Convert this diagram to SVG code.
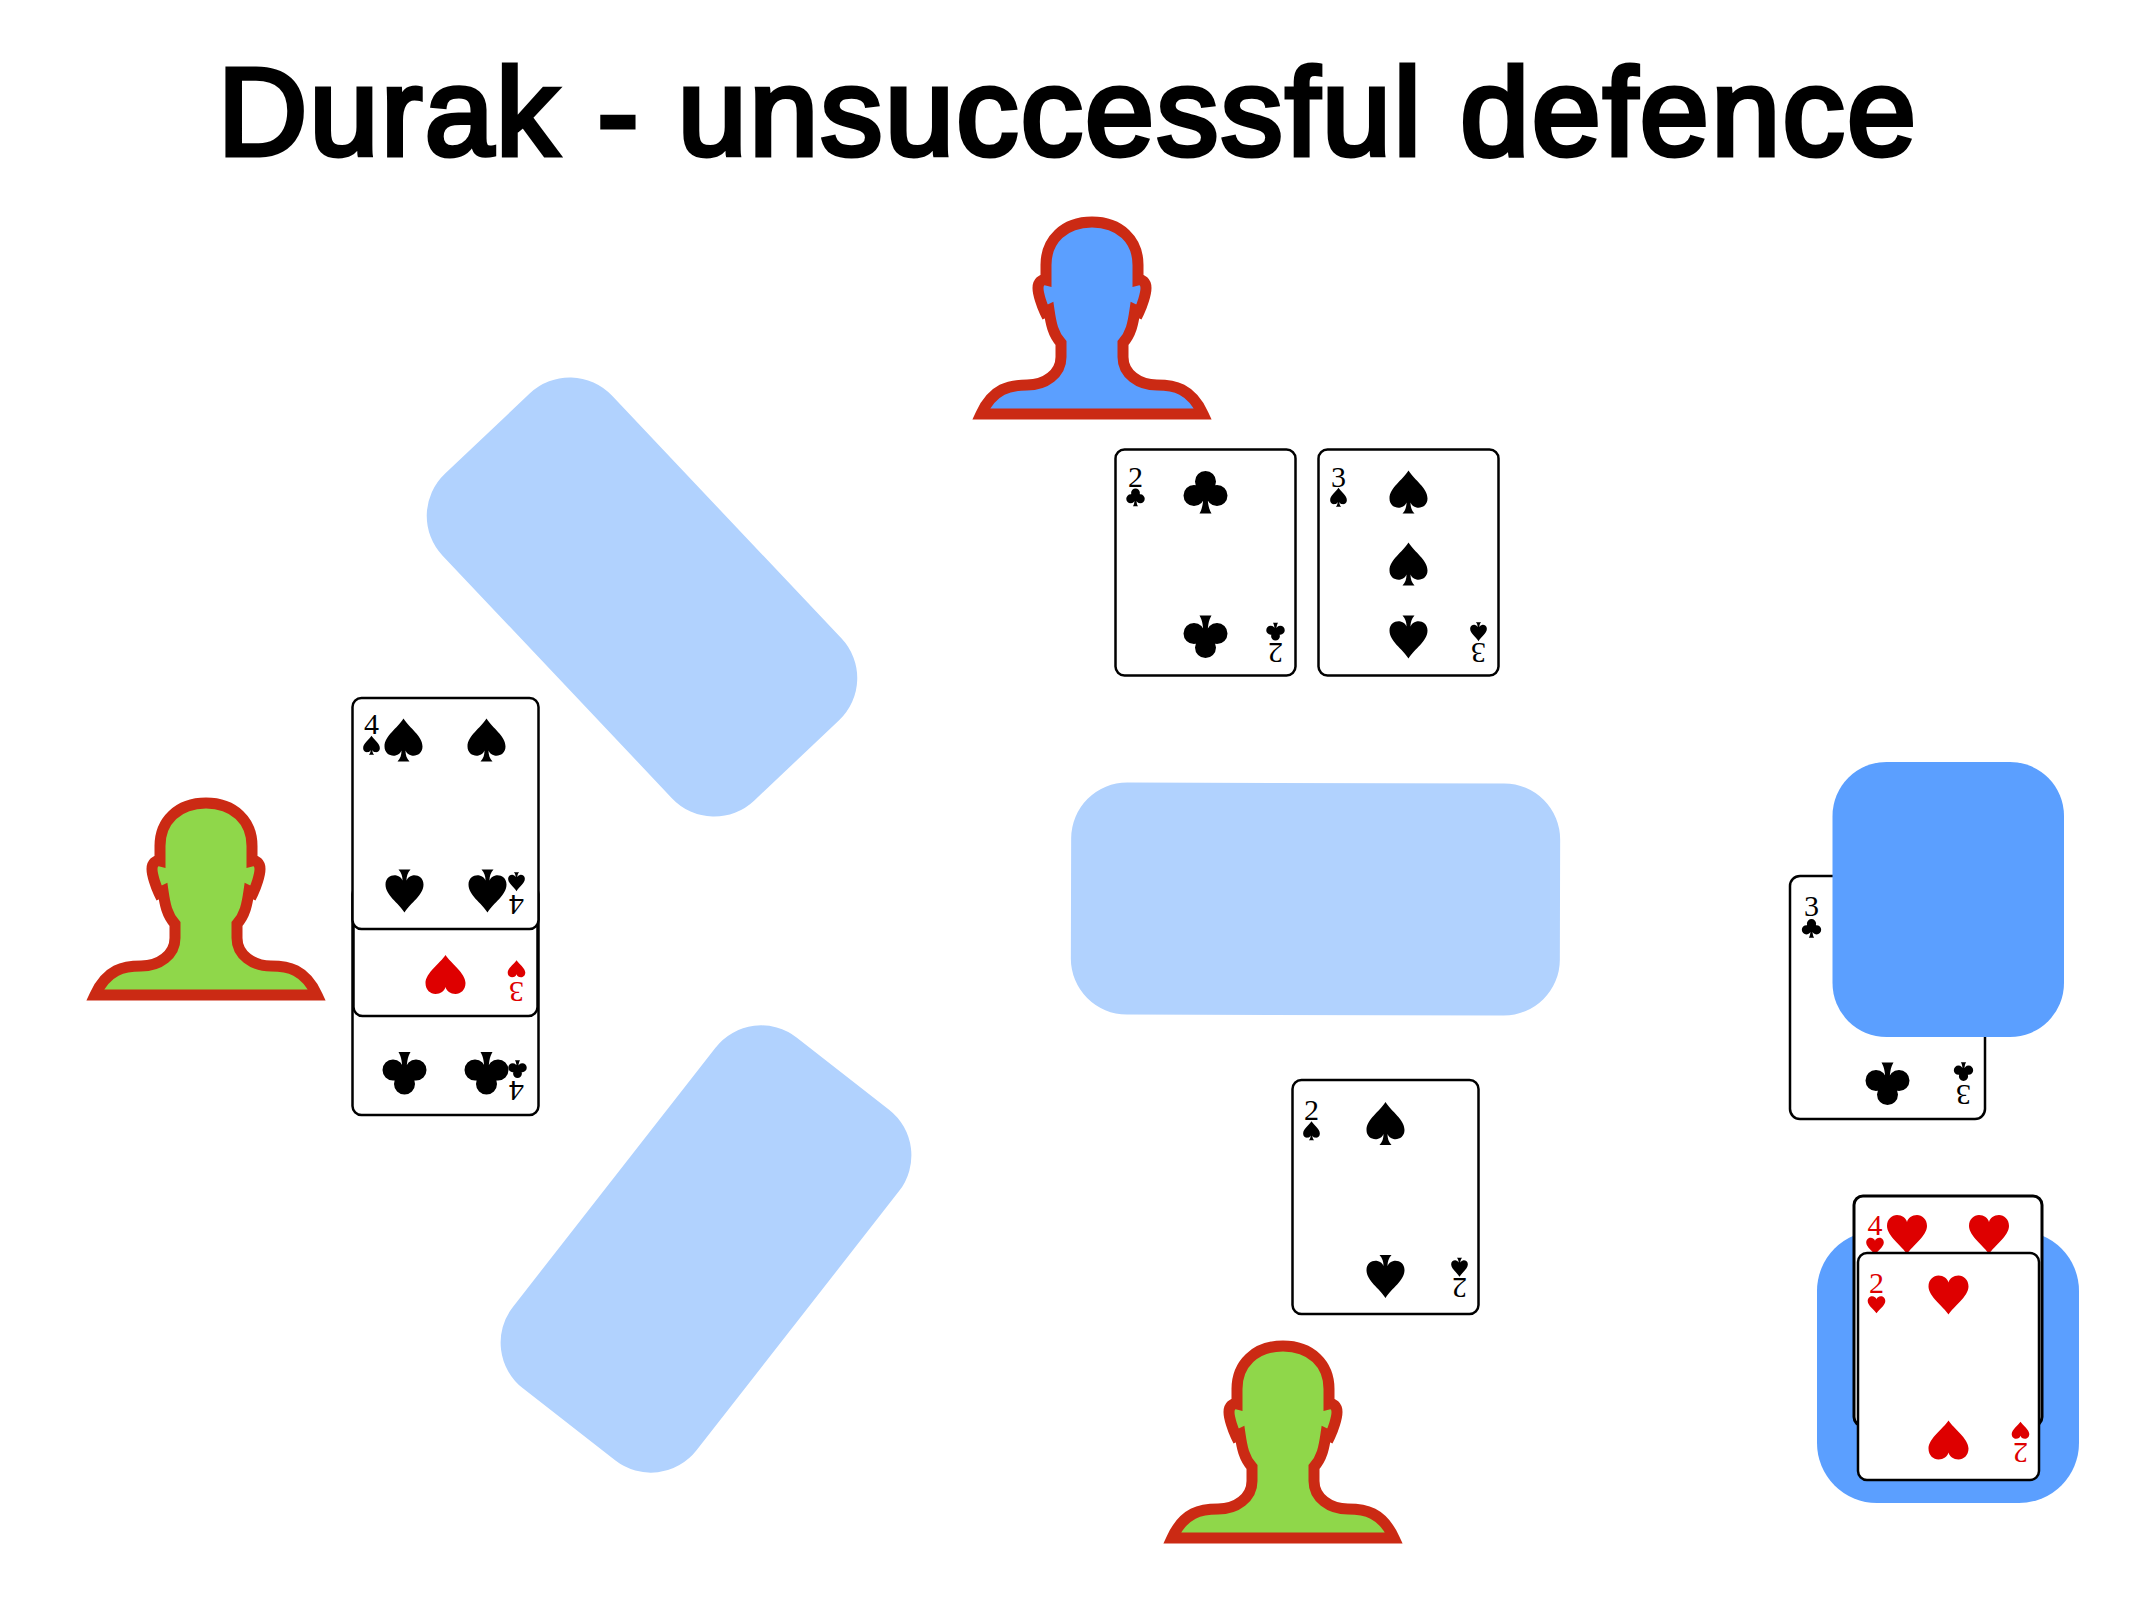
<svg xmlns="http://www.w3.org/2000/svg" xmlns:xlink="http://www.w3.org/1999/xlink" width="2133" height="1600" viewBox="0 0 2133 1600">
<style>
.title{font-family:"Liberation Sans",Arial,sans-serif;font-size:124px;letter-spacing:2.4px;fill:#000;stroke:#000;stroke-width:5;text-anchor:middle}
.person{stroke:#cb2a14;stroke-width:11;stroke-miterlimit:10;stroke-linejoin:miter}
.green{fill:#8fd74a}.bluep{fill:#5b9fff}
.slot{fill:#b1d2fe}.deck{fill:#5b9fff}
.card{fill:#fff;stroke:#000;stroke-width:2.500}
.d{font-family:"Liberation Serif","Times New Roman",serif;font-size:30px;text-anchor:middle}
.k{fill:#000}.r{fill:#de0000}
</style>
<defs>
<path id="head" d="M0,0C28,0 46,18 46,43L46,58C50,57 54,60 54,66C54,72 50,84 47,90L43,88C41,102 39,112 31,121L31,135C31,152 47,163 65,163C82,163 99,166 111,192L-111,192C-99,166 -82,163 -65,163C-47,163 -31,152 -31,135L-31,121C-39,112 -41,102 -43,88L-47,90C-50,84 -54,72 -54,66C-54,60 -50,57 -46,58L-46,43C-46,18 -28,0 0,0Z"/>
<path id="S" d="M0,-22C6,-12 19,-5 19,6C19,13 13,16 8,15C5,14.500 3,12.500 2,10C2,14 3,18 6,21L-6,21C-3,18 -2,14 -2,10C-3,12.500 -5,14.500 -8,15C-13,16 -19,13 -19,6C-19,-5 -6,-12 0,-22Z"/>
<path id="C" d="M-10.500,-11a10.500,10.500 0 1 1 21,0a10.500,10.500 0 1 1 -21,0ZM-22,3a10.500,10.500 0 1 1 21,0a10.500,10.500 0 1 1 -21,0ZM1,3a10.500,10.500 0 1 1 21,0a10.500,10.500 0 1 1 -21,0ZM-6,-6L6,-6L6,6L-6,6ZM-6,21C-3,16 -2,10 -2,-3L2,-3C2,10 3,16 6,21Z"/>
<path id="H" d="M0,20C-5,12 -20,2 -20,-8C-20,-15 -15,-19 -10,-19C-5,-19 -1,-16 0,-12C1,-16 5,-19 10,-19C15,-19 20,-15 20,-8C20,2 5,12 0,20Z"/>
</defs>

<text class="title" x="1068" y="155">Durak - unsuccessful defence</text>

<g id="slot-left"><rect class="slot" x="417" y="480.500" width="450" height="233" rx="58" transform="rotate(46.600 642 597)"/></g>
<g id="slot-center"><rect class="slot" x="1071" y="783" width="489" height="232" rx="56" transform="rotate(0.150 1315 899)"/></g>
<g id="slot-bottom"><rect class="slot" x="483.500" y="1132.500" width="445" height="233" rx="58" transform="rotate(-52 706 1249)"/></g>

<g id="player-north" transform="translate(1092,222)"><use href="#head" class="person bluep"/></g>
<g id="player-west" transform="translate(206,803)"><use href="#head" class="person green"/></g>
<g id="player-south" transform="translate(1283,1346)"><use href="#head" class="person green"/></g>

<g id="card-2c" class="k" transform="translate(1205.500,562.500)">
<rect class="card" x="-90" y="-113" width="180" height="226" rx="9"/>
<text class="d" x="-70" y="-76">2</text><use href="#C" transform="translate(-70,-65) scale(.42)"/>
<use href="#C" transform="translate(0,-70)"/>
<g transform="translate(0,4) rotate(180)"><text class="d" x="-70" y="-76">2</text><use href="#C" transform="translate(-70,-65) scale(.42)"/><use href="#C" transform="translate(0,-70)"/></g>
</g>
<g id="card-3s" class="k" transform="translate(1408.500,562.500)">
<rect class="card" x="-90" y="-113" width="180" height="226" rx="9"/>
<text class="d" x="-70" y="-76">3</text><use href="#S" transform="translate(-70,-65) scale(.44)"/>
<use href="#S" transform="translate(0,-70)"/><use href="#S" transform="translate(0,2)"/>
<g transform="translate(0,4) rotate(180)"><text class="d" x="-70" y="-76">3</text><use href="#S" transform="translate(-70,-65) scale(.44)"/><use href="#S" transform="translate(0,-70)"/></g>
</g>
<g id="card-2s" class="k" transform="translate(1385.500,1197)">
<rect class="card" x="-93" y="-117" width="186" height="234" rx="9"/>
<text class="d" x="-74" y="-77">2</text><use href="#S" transform="translate(-74,-66) scale(.44)"/>
<use href="#S" transform="translate(0,-73)"/>
<g transform="translate(0,4) rotate(180)"><text class="d" x="-74" y="-77">2</text><use href="#S" transform="translate(-74,-66) scale(.44)"/><use href="#S" transform="translate(0,-75)"/></g>
</g>

<g id="card-4c" class="k" transform="translate(445.500,1000)">
<rect class="card" x="-93" y="-115" width="186" height="230" rx="9"/>
<g transform="rotate(180)"><text class="d" x="-71" y="-81">4</text><use href="#C" transform="translate(-72,-69) scale(.42)"/><use href="#C" transform="translate(-41,-73) scale(1)"/><use href="#C" transform="translate(41,-73) scale(1)"/></g>
</g>
<g id="card-3h" class="r" transform="translate(445.500,901)">
<rect class="card" x="-92" y="-115" width="184" height="230" rx="9"/>
<g transform="rotate(180)"><text class="d" x="-71" y="-81">3</text><use href="#H" transform="translate(-71,-68) scale(.44)"/><use href="#H" transform="translate(0,-74)"/></g>
</g>
<g id="card-4s" class="k" transform="translate(445.500,813.500)">
<rect class="card" x="-93" y="-115.500" width="186" height="231" rx="9"/>
<text class="d" x="-74" y="-80">4</text><use href="#S" transform="translate(-74,-68) scale(.44)"/>
<use href="#S" transform="translate(-42,-73)"/><use href="#S" transform="translate(41,-73)"/>
<g transform="rotate(180)"><text class="d" x="-71" y="-81">4</text><use href="#S" transform="translate(-71,-68) scale(.44)"/><use href="#S" transform="translate(-42,-77)"/><use href="#S" transform="translate(41,-77)"/></g>
</g>

<g id="card-3c" class="k" transform="translate(1887.500,997.500)">
<rect class="card" x="-97.500" y="-121.500" width="195" height="243" rx="10"/>
<text class="d" x="-76" y="-82">3</text><use href="#C" transform="translate(-76,-69) scale(.44)"/>
<g transform="translate(0,6) rotate(180)"><text class="d" x="-76" y="-81">3</text><use href="#C" transform="translate(-76,-68) scale(.44)"/><use href="#C" transform="translate(0,-80)"/></g>
</g>
<g id="deck-top"><rect class="deck" x="1832.500" y="762" width="231.500" height="275" rx="54"/></g>

<g id="deck-bottom"><rect class="deck" x="1817" y="1231" width="262" height="272" rx="60"/></g>
<g id="card-4h" class="r" transform="translate(1948,1311)">
<rect class="card" x="-94" y="-115" width="188" height="230" rx="9" style="stroke-width:3"/>
<text class="d" x="-73" y="-76">4</text><use href="#H" transform="translate(-73,-65) scale(.44)"/>
<use href="#H" transform="translate(-41,-77)"/><use href="#H" transform="translate(41,-77)"/>
</g>
<g id="card-2h" class="r" transform="translate(1948.500,1366.500)">
<rect class="card" x="-90.500" y="-113.500" width="181" height="227" rx="9"/>
<text class="d" x="-72" y="-74">2</text><use href="#H" transform="translate(-72,-62) scale(.44)"/>
<use href="#H" transform="translate(0,-72)"/>
<g transform="translate(0,2) rotate(180)"><text class="d" x="-72" y="-74">2</text><use href="#H" transform="translate(-72,-62) scale(.44)"/><use href="#H" transform="translate(0,-72)"/></g>
</g>
<g id="connectors"/>
</svg>
